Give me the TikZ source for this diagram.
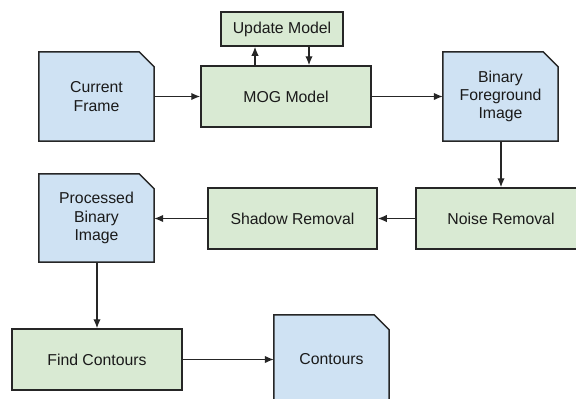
\documentclass[tikz,border=0pt]{standalone}
\usepackage{fontspec}
\setmainfont{Liberation Sans}
\usetikzlibrary{arrows.meta,backgrounds}
\definecolor{procfill}{HTML}{D9EAD3}
\definecolor{docfill}{HTML}{CFE2F3}
\definecolor{edge}{HTML}{262626}
\definecolor{ink}{HTML}{1A1A1A}
\tikzset{
  base/.style={align=center, text=ink, inner sep=2pt,
    font=\fontsize{15.8pt}{18.3pt}\selectfont},
  proc/.style={base, draw=edge, fill=procfill, line width=1.5pt},
  docnode/.style={base},
  docline/.style={draw=edge, fill=docfill, line width=1.5pt, line join=miter},
  flow/.style={draw=edge, line width=1.4pt, -{Latex[length=9pt,width=7.5pt]}}
}
% document shape: rectangle with the top-right corner cut off
\newcommand\docshape[1]{%
  \path[docline] (#1.south west) -- (#1.north west)
    -- ([xshift=-15pt]#1.north east) -- ([yshift=-15pt]#1.north east)
    -- (#1.south east) -- cycle;}
\begin{document}
\begin{tikzpicture}[x=1pt,y=-1pt]
  \useasboundingbox (0,0) rectangle (576,399);
  \clip (0,0) rectangle (576,399);

  % processing steps
  \node[proc, minimum width=170pt, minimum height=61pt] (mog) at (286,96.5) {MOG Model};
  \node[proc, minimum width=122pt, minimum height=34pt] (upd) at (282,29) {Update Model};
  \node[proc, minimum width=170pt, minimum height=61pt] (nr) at (501,218.5) {Noise Removal};
  \node[proc, minimum width=169pt, minimum height=61pt] (sr) at (292.5,218.5) {Shadow Removal};
  \node[proc, minimum width=170pt, minimum height=61pt] (fc) at (97,359.5) {Find Contours};

  % data items
  \node[docnode, minimum width=115pt, minimum height=89pt] (cf) at (96.5,96.5) {Current\\Frame};
  \node[docnode, minimum width=115pt, minimum height=89pt] (bfi) at (500.5,96.5) {Binary\\Foreground\\Image};
  \node[docnode, minimum width=115pt, minimum height=88pt] (pbi) at (96.5,218) {Processed\\Binary\\Image};
  \node[docnode, minimum width=115pt, minimum height=89pt] (ct) at (331.5,359.5) {Contours};

  \begin{pgfonlayer}{background}
    \docshape{cf}
    \docshape{bfi}
    \docshape{pbi}
    \docshape{ct}
  \end{pgfonlayer}

  % connectors
  \coordinate (mogup) at (255,0);
  \coordinate (mogdn) at (309,0);
  \coordinate (bfidn) at (501,0);
  \coordinate (pbidn) at (97,0);
  \draw[flow] (cf.east) -- (mog.west);
  \draw[flow] (mog.east) -- (bfi.west);
  \draw[flow] (mog.north -| mogup) -- (upd.south -| mogup);
  \draw[flow] (upd.south -| mogdn) -- (mog.north -| mogdn);
  \draw[flow] (bfi.south -| bfidn) -- (nr.north -| bfidn);
  \draw[flow] (nr.west) -- (sr.east);
  \draw[flow] (sr.west) -- (sr.west -| pbi.east);
  \draw[flow] (pbi.south -| pbidn) -- (fc.north -| pbidn);
  \draw[flow] (fc.east) -- (fc.east -| ct.west);
\end{tikzpicture}
\end{document}
